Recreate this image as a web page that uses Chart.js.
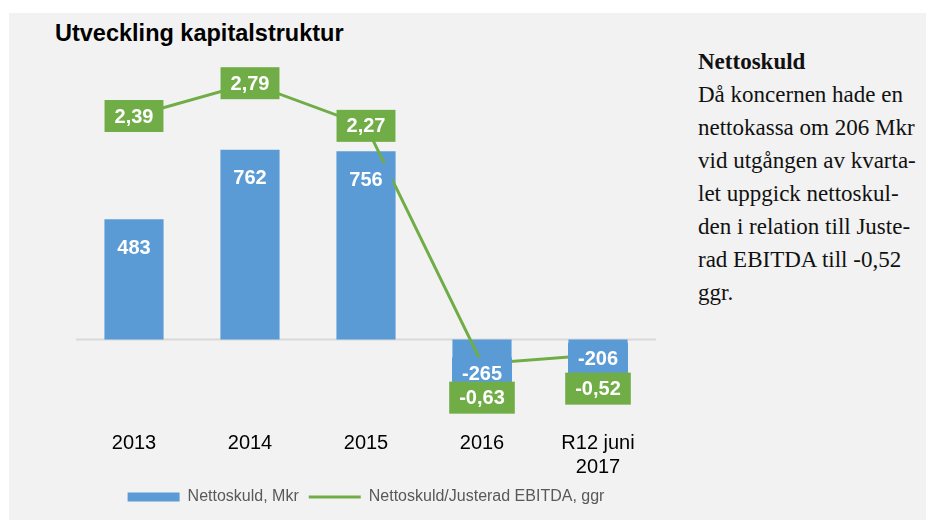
<!DOCTYPE html>
<html>
<head>
<meta charset="utf-8">
<script src="https://cdn.jsdelivr.net/npm/chart.js@4/dist/chart.umd.min.js"></script>
<style>
  body { margin: 0; background: #fff; }
  #panel { position: absolute; left: 9px; top: 13px; width: 917px; height: 507px; background: #f2f2f2; }
  #title { position: absolute; left: 46px; top: 9px; font: bold 23.5px "Liberation Sans", Arial, sans-serif; line-height: 1; color: #000; white-space: nowrap; }
  #chartBox { position: absolute; left: 0; top: 0; }
  #note { position: absolute; left: 689px; top: 32px; font: 23px "Liberation Serif", "Times New Roman", serif; line-height: 33px; color: #111; white-space: nowrap; }
  #note b { font-weight: bold; }
</style>
</head>
<body>
<div id="panel">
  <div id="title">Utveckling kapitalstruktur</div>
  <div id="chartBox"><canvas id="chart" width="660" height="507"></canvas></div>
  <div id="note">
    <b>Nettoskuld</b><br>
    Då koncernen hade en<br>
    nettokassa om 206 Mkr<br>
    vid utgången av kvarta-<br>
    let uppgick nettoskul-<br>
    den i relation till Juste-<br>
    rad EBITDA till -0,52<br>
    ggr.
  </div>
</div>
<script>
const categories = ['2013', '2014', '2015', '2016', ['R12 juni', '2017']]
const debtMkr = [483, 762, 756, -265, -206]
const debtRatio = [2.39, 2.79, 2.27, -0.63, -0.52]

const blue = '#5b9bd5'
const green = '#70ad47'

function drawTag(ctx, text, x, y, fill) {
  const w = ctx.measureText(text).width + 20
  const h = 32
  ctx.fillStyle = fill
  ctx.fillRect(x - w / 2, y - h / 2, w, h)
  ctx.fillStyle = '#fff'
  ctx.fillText(text, x, y + 1)
}

const valueLabels = {
  id: 'valueLabels',
  beforeDatasetsDraw(chart) {
    // zero line
    const ctx = chart.ctx
    const y0 = chart.scales.y.getPixelForValue(0)
    ctx.save()
    ctx.strokeStyle = '#d9d9d9'
    ctx.lineWidth = 2
    ctx.beginPath()
    ctx.moveTo(chart.chartArea.left, y0)
    ctx.lineTo(chart.chartArea.right, y0)
    ctx.stroke()
    ctx.restore()
  },
  afterDatasetsDraw(chart) {
    const ctx = chart.ctx
    ctx.save()
    ctx.font = 'bold 20px "Liberation Sans", Arial, sans-serif'
    ctx.textAlign = 'center'
    ctx.textBaseline = 'middle'
    chart.getDatasetMeta(1).data.forEach((bar, i) => {
      const v = debtMkr[i]
      const y = v >= 0 ? bar.y + 28 : bar.y - 32
      drawTag(ctx, String(v), bar.x, y, blue)
    })
    chart.getDatasetMeta(0).data.forEach((pt, i) => {
      const v = debtRatio[i]
      const y = v < 0 ? pt.y + 34 : pt.y
      drawTag(ctx, v.toFixed(2).replace('.', ','), pt.x, y, green)
    })
    ctx.restore()
  }
}

new Chart(document.getElementById('chart'), {
  type: 'bar',
  data: {
    labels: categories,
    datasets: [{
      type: 'line',
      label: 'Nettoskuld/Justerad EBITDA, ggr',
      data: debtRatio,
      yAxisID: 'y1',
      borderColor: green,
      backgroundColor: green,
      borderWidth: 3,
      pointRadius: 0,
      tension: 0
    }, {
      label: 'Nettoskuld, Mkr',
      data: debtMkr,
      yAxisID: 'y',
      backgroundColor: blue,
      borderColor: blue,
      borderWidth: 0,
      categoryPercentage: 1,
      barPercentage: 0.51
    }]
  },
  options: {
    responsive: false,
    animation: false,
    layout: { padding: { left: 67, right: 13, top: 47, bottom: 5 } },
    scales: {
      x: {
        grid: { display: false, drawTicks: false },
        border: { display: false },
        ticks: {
          padding: 0,
          color: '#000',
          font: { family: '"Liberation Sans", Arial, sans-serif', size: 20, lineHeight: 1.2 }
        }
      },
      y: { display: false, min: -367, max: 1122 },
      y1: { display: false, min: -1.451, max: 3.073 }
    },
    plugins: {
      tooltip: { enabled: false },
      legend: {
        position: 'bottom',
        labels: {
          usePointStyle: true,
          pointStyleWidth: 52,
          boxHeight: 9,
          padding: 10,
          color: '#595959',
          font: { family: '"Liberation Sans", Arial, sans-serif', size: 16 },
          generateLabels(chart) {
            const items = Chart.defaults.plugins.legend.labels.generateLabels(chart)
            items.forEach(item => {
              item.pointStyle = item.datasetIndex === 0 ? 'line' : 'rect'
            })
            return items.reverse()
          }
        }
      }
    }
  },
  plugins: [valueLabels]
})
</script>
</body>
</html>
